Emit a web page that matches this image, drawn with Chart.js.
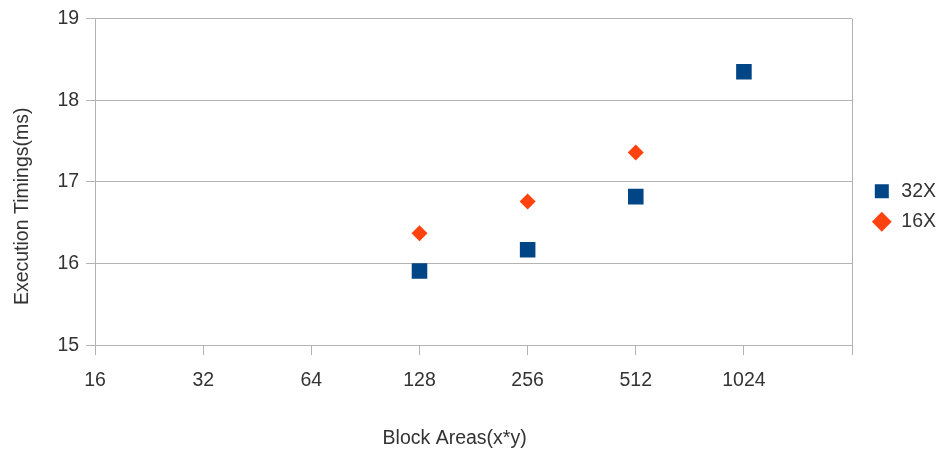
<!DOCTYPE html>
<html>
<head>
  <title>Execution Timings</title>
  <script src="https://cdn.jsdelivr.net/npm/chart.js"></script>
  <style>
    body { margin: 0; background: white; }
    #wrap { width: 939px; height: 452px; }
  </style>
</head>
<body>
<div id="wrap"><canvas id="chart"></canvas></div>
<script>
  // data
  const blockAreas32 = [128, 256, 512, 1024];
  const times32x = [15.91, 16.17, 16.82, 18.35];
  const blockAreas16 = [128, 256, 512];
  const times16x = [16.37, 16.76, 17.36];
  const xTicks = [16, 32, 64, 128, 256, 512, 1024, 2048];

  const gridColor = '#b3b3b3';
  const textColor = '#333';
  Chart.defaults.font.family = "'Liberation Sans', Arial, sans-serif";
  Chart.defaults.font.size = 19.5;
  Chart.defaults.color = textColor;

  // move the legend a little right and up, as in the original
  const legendShift = {
    id: 'legendShift',
    afterLayout(chart) {
      const lg = chart.legend;
      if (lg) {
        lg.left += 9;
        lg.right += 9;
        lg.top -= 27;
        lg.bottom -= 27;
      }
    }
  };

  const ctx = document.getElementById('chart').getContext('2d');
  const chart = new Chart(ctx, {
    type: 'scatter',
    data: {
      datasets: [
        {
          label: '32X',
          data: blockAreas32.map((x, i) => ({ x: x, y: times32x[i] })),
          pointStyle: 'rect',
          pointRadius: 11,
          pointHoverRadius: 11,
          backgroundColor: '#004586',
          borderColor: '#004586',
          borderWidth: 0
        },
        {
          label: '16X',
          data: blockAreas16.map((x, i) => ({ x: x, y: times16x[i] })),
          pointStyle: 'rectRot',
          pointRadius: 8,
          pointHoverRadius: 8,
          backgroundColor: '#ff420e',
          borderColor: '#ff420e',
          borderWidth: 0
        }
      ]
    },
    options: {
      responsive: true,
      maintainAspectRatio: false,
      animation: false,
      layout: { padding: { top: 17, right: 2, left: 11, bottom: 2 } },
      plugins: {
        tooltip: { enabled: false },
        legend: {
          position: 'right',
          labels: {
            usePointStyle: true,
            boxHeight: 14,
            padding: 11,
            color: textColor
          }
        }
      },
      scales: {
        x: {
          type: 'logarithmic',
          min: 16,
          max: 2048,
          afterBuildTicks: axis => {
            axis.ticks = xTicks.map(v => ({ value: v }));
          },
          ticks: {
            autoSkip: false,
            maxRotation: 0,
            padding: 14,
            callback: v => (v === 2048 ? '' : String(v))
          },
          grid: {
            color: c => (c.tick && c.tick.value === 2048 ? gridColor : 'rgba(0,0,0,0)'),
            tickColor: gridColor,
            tickLength: 10
          },
          border: { display: true, color: gridColor },
          title: {
            display: true,
            // trailing spaces nudge the centred title left, as in the original
            text: 'Block Areas(x*y)       ',
            padding: { top: 20, bottom: 0 }
          }
        },
        y: {
          min: 15,
          max: 19,
          ticks: { stepSize: 1, padding: 7 },
          grid: { color: gridColor, tickColor: gridColor, tickLength: 9 },
          border: { display: true, color: gridColor },
          title: {
            display: true,
            text: 'Execution Timings(ms)         ',
            padding: { top: 0, bottom: 16 }
          }
        }
      }
    },
    plugins: [legendShift]
  });
</script>
</body>
</html>
